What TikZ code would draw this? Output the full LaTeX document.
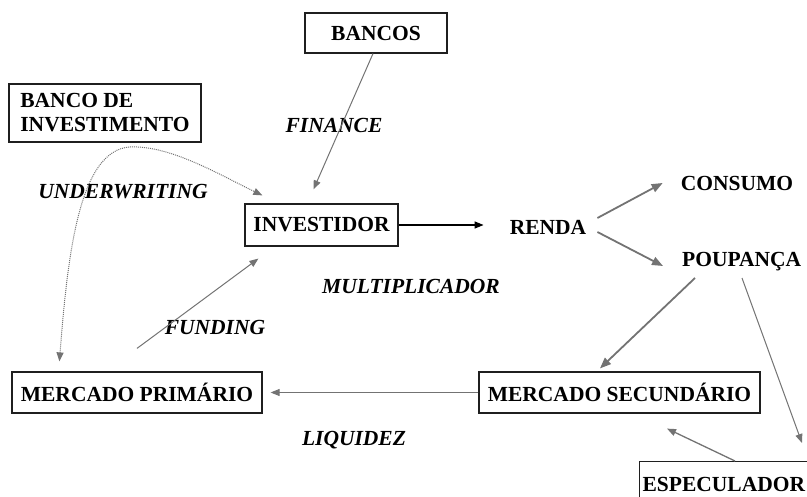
\documentclass[tikz,border=0pt]{standalone}
\usepackage{fontspec}
\setmainfont{Liberation Serif}
\usepackage{tikz}
\usetikzlibrary{arrows.meta}
\definecolor{flow}{gray}{0.45}
\definecolor{frame}{gray}{0.12}
\newcommand{\boxfont}{\fontsize{21.5}{24}\selectfont\bfseries}

\tikzset{
  box/.style={draw=frame, line width=1.2pt, font=\boxfont, inner sep=0pt},
  word/.style={font=\boxfont, inner sep=0pt},
  tag/.style={font=\boxfont\itshape, inner sep=0pt},
  flow/.style={draw=flow, line width=1pt, -{Triangle[length=9pt,width=7pt]}},
  heavy/.style={flow, line width=1.8pt, -{Triangle[length=11pt,width=8.5pt]}},
}

\begin{document}
\begin{tikzpicture}[x=1pt, y=-1pt]
    \useasboundingbox (0,0) rectangle (807,497);
    \clip (0,0) rectangle (807,497);
    \node[box, minimum width=142pt, minimum height=40pt] (bancos) at (376,33) {BANCOS};
    \node[box, minimum width=192pt, minimum height=58pt, align=left] (bdi) at (105,113) {BANCO DE\\INVESTIMENTO};
    \node[box, minimum width=153pt, minimum height=42pt] (inv) at (321.5,225) {INVESTIDOR};
    \node[word] (renda) at (548,227) {RENDA};
    \node[word] (consumo) at (737,183) {CONSUMO};
    \node[word, anchor=base west] (poup) at (682,267) {POUPANÇA};
    \node[box, minimum width=250pt, minimum height=41pt] (mprim) at (137,392.5) {MERCADO PRIMÁRIO};
    \node[box, minimum width=281pt, minimum height=41pt] (msec) at (619.5,392.5) {MERCADO SECUNDÁRIO};
    \node[box, anchor=north west, minimum height=46pt, text width=180pt, inner xsep=3pt, align=left] (espec) at (639,461) {ESPECULADOR};

    \node[tag] (finance) at (334,125) {FINANCE};
    \node[tag] (underw) at (123,192) {UNDERWRITING};
    \node[tag] (multi) at (411,286) {MULTIPLICADOR};
    \node[tag] (funding) at (215,327) {FUNDING};
    \node[tag] (liquidez) at (354,440) {LIQUIDEZ};

    \draw[flow] ([xshift=-3pt]bancos.south) -- ([xshift=-8pt,yshift=14pt]inv.north);
    \draw[flow, densely dotted, {Triangle[length=9pt,width=7pt]}-{Triangle[length=9pt,width=7pt]}]
      ([xshift=48pt,yshift=10pt]mprim.north west)
      .. controls (68,250) and (80,150) .. (130,147)
      .. controls (170,145) and (220,175) .. ([xshift=18pt,yshift=8pt]inv.north west);
    \draw[flow] ([yshift=23pt]mprim.north) -- ([xshift=14pt,yshift=-12pt]inv.south west);
    \draw[black, line width=1.3pt, -{Triangle[length=9pt,width=7pt]}, shorten >=26pt] (inv.east) -- (inv.east -| renda.west);
    \draw[heavy] ([xshift=11pt,yshift=9pt]renda.east) -- ([xshift=-18pt]consumo.west);
    \draw[heavy] ([xshift=11pt,yshift=-5pt]renda.east) -- ([xshift=-19pt,yshift=1pt]poup.base west);
    \draw[heavy] ([xshift=13pt,yshift=-11pt]poup.base west) -- ([xshift=-19.5pt,yshift=3pt]msec.north);
    \draw[flow] ([xshift=60pt,yshift=-11pt]poup.base west) -- ([xshift=163pt,yshift=18pt]espec.north west);
    \draw[flow, line width=1.3pt] ([xshift=96pt]espec.north west) -- ([xshift=47.5pt,yshift=-15pt]msec.south);
    \draw[flow, shorten >=8pt] (msec.west) -- (mprim.east);
\end{tikzpicture}
\end{document}
